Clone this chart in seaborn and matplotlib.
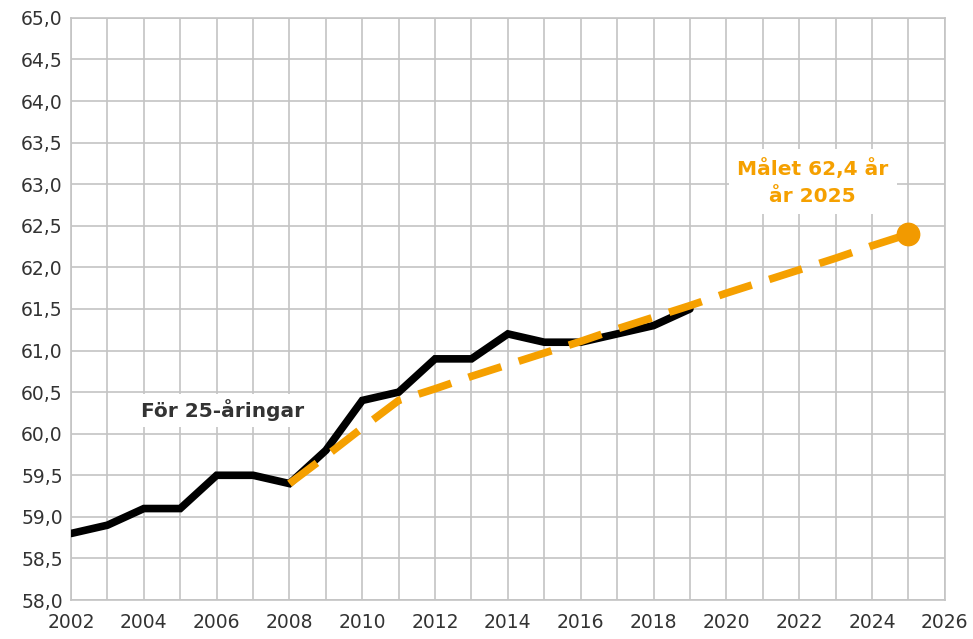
import pandas as pd
import numpy as np
import matplotlib.pyplot as plt
import seaborn as sns
from matplotlib.ticker import MultipleLocator, FuncFormatter

# data
years = list(range(2002, 2020))
age = [58.8, 58.9, 59.1, 59.1, 59.5, 59.5, 59.4, 59.8, 60.4, 60.5,
       60.9, 60.9, 61.2, 61.1, 61.1, 61.2, 61.3, 61.5]

target_years = list(range(2008, 2026))
target = [59.4, 59.73, 60.07, 60.4, 60.54, 60.69, 60.83, 60.97, 61.11,
          61.26, 61.4, 61.54, 61.69, 61.83, 61.97, 62.11, 62.26, 62.4]

goal_year = 2025
goal_value = 62.4

sns.set_style("white")
plt.rcParams['font.family'] = ['DejaVu Sans']

orange = '#F5A000'
grid_col = '#C4C4C4'

fig, ax = plt.subplots(figsize=(9.73, 6.39), dpi=100)
fig.subplots_adjust(left=0.073, right=0.971, top=0.972, bottom=0.061)

df = pd.DataFrame({'year': years, 'age': age})
dt = pd.DataFrame({'year': target_years, 'age': target})

sns.lineplot(data=df, x='year', y='age', ax=ax, color='black', linewidth=5.5,
             solid_joinstyle='miter', zorder=3)
sns.lineplot(data=dt, x='year', y='age', ax=ax, color=orange, linewidth=5.5,
             dashes=False, zorder=4)
ax.lines[-1].set_dashes([4.5, 2.4])
ax.lines[-1].set_dash_capstyle('butt')
ax.scatter([goal_year], [goal_value], s=260, color='#F29A00', zorder=5)

ax.set_xlim(2002, 2026)
ax.set_ylim(58, 65)
ax.xaxis.set_major_locator(MultipleLocator(2))
ax.xaxis.set_minor_locator(MultipleLocator(1))
ax.yaxis.set_major_locator(MultipleLocator(0.5))
ax.yaxis.set_major_formatter(FuncFormatter(lambda v, p: f"{v:.1f}".replace('.', ',')))

ax.grid(which='both', axis='x', color=grid_col, linewidth=1.2)
ax.grid(which='major', axis='y', color=grid_col, linewidth=1.2)
ax.set_axisbelow(True)
for s in ax.spines.values():
    s.set_color(grid_col)
    s.set_linewidth(1.2)

ax.tick_params(axis='x', which='major', length=6, color=grid_col, labelsize=13.5,
               labelcolor='#333333', pad=3)
ax.tick_params(axis='x', which='minor', length=0)
ax.tick_params(axis='y', length=0, labelsize=13.5, labelcolor='#333333', pad=6)
ax.set_xlabel('')
ax.set_ylabel('')

ax.text(2006.15, 60.28, 'För 25-åringar', fontsize=14.5, fontweight='bold',
        color='#333333', ha='center', va='center', zorder=6,
        bbox=dict(facecolor='white', edgecolor='none', pad=4))
ax.text(2022.37, 63.03, 'Målet 62,4 år\når 2025', fontsize=14.5, fontweight='bold',
        color=orange, ha='center', va='center', linespacing=1.55, zorder=6,
        bbox=dict(facecolor='white', edgecolor='none', pad=6))

fig.savefig('out.png', dpi=100)
